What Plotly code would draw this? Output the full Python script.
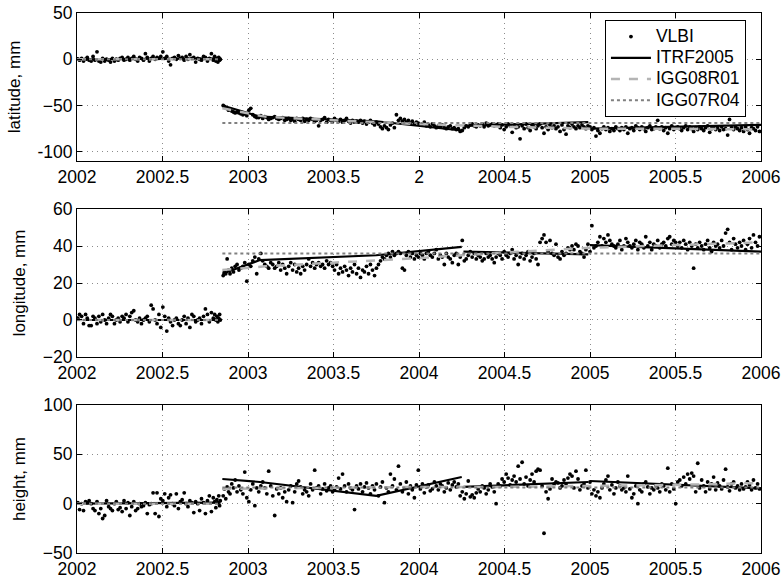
import plotly.graph_objects as go
from plotly.subplots import make_subplots

# ---------------- data ----------------
# VLBI epochs before the 2002.84 offset
t_a = [2002.005, 2002.015, 2002.027, 2002.038, 2002.05, 2002.06, 2002.071, 2002.083, 2002.094, 2002.105,
       2002.117, 2002.128, 2002.139, 2002.15, 2002.162, 2002.173, 2002.185, 2002.196, 2002.207, 2002.219,
       2002.23, 2002.241, 2002.252, 2002.264, 2002.275, 2002.287, 2002.298, 2002.309, 2002.32, 2002.332,
       2002.343, 2002.355, 2002.366, 2002.377, 2002.389, 2002.4, 2002.411, 2002.423, 2002.434, 2002.445,
       2002.457, 2002.468, 2002.479, 2002.49, 2002.502, 2002.513, 2002.525, 2002.536, 2002.547, 2002.559,
       2002.57, 2002.581, 2002.593, 2002.604, 2002.615, 2002.627, 2002.638, 2002.649, 2002.66, 2002.672,
       2002.683, 2002.694, 2002.706, 2002.717, 2002.728, 2002.74, 2002.751, 2002.763, 2002.774, 2002.786,
       2002.797, 2002.805, 2002.812, 2002.818, 2002.824, 2002.829, 2002.834, 2002.838]
# VLBI epochs after the offset
t_b = [2002.855, 2002.862, 2002.87, 2002.878, 2002.886, 2002.895, 2002.905, 2002.915, 2002.925, 2002.936,
       2002.947, 2002.958, 2002.97, 2002.981, 2002.993, 2003.005, 2003.016, 2003.028, 2003.04, 2003.051,
       2003.063, 2003.075, 2003.086, 2003.098, 2003.11, 2003.121, 2003.133, 2003.145, 2003.156, 2003.168,
       2003.18, 2003.191, 2003.203, 2003.215, 2003.226, 2003.238, 2003.25, 2003.261, 2003.273, 2003.285,
       2003.296, 2003.308, 2003.32, 2003.331, 2003.343, 2003.355, 2003.366, 2003.378, 2003.39, 2003.401,
       2003.413, 2003.425, 2003.436, 2003.448, 2003.46, 2003.471, 2003.483, 2003.495, 2003.506, 2003.518,
       2003.53, 2003.541, 2003.553, 2003.565, 2003.576, 2003.588, 2003.6, 2003.611, 2003.623, 2003.635,
       2003.646, 2003.658, 2003.67, 2003.681, 2003.693, 2003.705, 2003.716, 2003.728, 2003.74, 2003.751,
       2003.763, 2003.775, 2003.786, 2003.798, 2003.81, 2003.821, 2003.833, 2003.845, 2003.856, 2003.868,
       2003.88, 2003.891, 2003.903, 2003.915, 2003.926, 2003.938, 2003.95, 2003.961, 2003.973, 2003.985,
       2003.996, 2004.008, 2004.02, 2004.031, 2004.043, 2004.055, 2004.066, 2004.078, 2004.09, 2004.101,
       2004.113, 2004.125, 2004.136, 2004.148, 2004.16, 2004.171, 2004.183, 2004.195, 2004.206, 2004.218,
       2004.23, 2004.241, 2004.253, 2004.265, 2004.276, 2004.288, 2004.3, 2004.311, 2004.323, 2004.335,
       2004.346, 2004.358, 2004.37, 2004.381, 2004.393, 2004.405, 2004.416, 2004.428, 2004.44, 2004.451,
       2004.463, 2004.475, 2004.486, 2004.498, 2004.51, 2004.521, 2004.533, 2004.545, 2004.556, 2004.568,
       2004.58, 2004.591, 2004.603, 2004.615, 2004.626, 2004.638, 2004.65, 2004.661, 2004.673, 2004.685,
       2004.696, 2004.708, 2004.72, 2004.731, 2004.743, 2004.755, 2004.766, 2004.778, 2004.79, 2004.801,
       2004.813, 2004.825, 2004.836, 2004.848, 2004.86, 2004.871, 2004.883, 2004.895, 2004.906, 2004.918,
       2004.93, 2004.941, 2004.953, 2004.965, 2004.976, 2004.988, 2005.0, 2005.011, 2005.023, 2005.035,
       2005.046, 2005.058, 2005.07, 2005.081, 2005.093, 2005.105, 2005.116, 2005.128, 2005.14, 2005.151,
       2005.163, 2005.175, 2005.186, 2005.198, 2005.21, 2005.221, 2005.233, 2005.245, 2005.256, 2005.268,
       2005.28, 2005.291, 2005.303, 2005.315, 2005.326, 2005.338, 2005.35, 2005.361, 2005.373, 2005.385,
       2005.396, 2005.408, 2005.42, 2005.431, 2005.443, 2005.455, 2005.466, 2005.478, 2005.49, 2005.501,
       2005.513, 2005.525, 2005.536, 2005.548, 2005.56, 2005.571, 2005.583, 2005.595, 2005.606, 2005.618,
       2005.63, 2005.641, 2005.653, 2005.665, 2005.676, 2005.688, 2005.7, 2005.711, 2005.723, 2005.735,
       2005.746, 2005.758, 2005.77, 2005.781, 2005.793, 2005.805, 2005.816, 2005.828, 2005.84, 2005.851,
       2005.863, 2005.875, 2005.886, 2005.898, 2005.91, 2005.921, 2005.933, 2005.945, 2005.956, 2005.968,
       2005.98, 2005.991]

lat_a = [0.5, -1, 1, -2, 0, 2, -1, -2, 3, -1,
         8, -2, -3, 1, -2, 0, -1, -3, 1, -2,
         0, -1, 1, 2, -1, 0, 2, -1, 1, 3,
         0, -2, 2, 1, -1, 6, 2, -2, 1, 3,
         0, 2, 1, 3, 8, 1, 3, -2, -6, 1,
         2, 0, 4, 1, 2, -1, 3, 0, 5, 1,
         2, -3, 1, 0, -1, 3, 2, -2, 1, 6,
         -1, 3, -2, 1, -3, 2, -1, 0]
lat_b = [-50, -51, -52, -53, -55, -54, -56, -57, -58, -57,
         -58, -59, -60, -59, -61, -55, -53, -60, -62, -63,
         -63, -61, -64, -62, -63, -65, -64, -63, -62, -64,
         -65, -64, -63, -66, -65, -64, -66, -65, -67, -64,
         -65, -66, -64, -67, -65, -66, -64, -65, -67, -66,
         -72, -66, -65, -63, -68, -65, -66, -67, -64, -66,
         -67, -65, -68, -66, -64, -67, -69, -66, -68, -67,
         -68, -66, -69, -67, -70, -68, -66, -69, -71, -68,
         -70, -73, -75, -72, -74, -76, -71, -69, -74, -60,
         -66, -64, -67, -65, -68, -66, -69, -67, -70, -68,
         -69, -71, -70, -68, -72, -71, -73, -70, -72, -74,
         -72, -73, -71, -74, -75, -73, -72, -75, -74, -76,
         -75, -78, -77, -74, -72, -73, -71, -70, -72, -73,
         -71, -72, -70, -73, -69, -72, -71, -70, -72, -71,
         -70, -74, -71, -76, -73, -70, -72, -79, -71, -74,
         -73, -86, -72, -75, -70, -74, -77, -71, -73, -75,
         -72, -70, -74, -80, -73, -76, -71, -74, -72, -75,
         -73, -78, -71, -76, -81, -72, -74, -70, -73, -75,
         -72, -74, -71, -73, -75, -72, -73, -76, -74, -83,
         -77, -80, -75, -73, -76, -74, -78, -75, -77, -73,
         -75, -77, -74, -76, -73, -80, -75, -74, -77, -72,
         -74, -76, -73, -75, -78, -74, -72, -76, -75, -73,
         -66, -75, -73, -77, -74, -80, -75, -72, -76, -74,
         -73, -75, -77, -74, -72, -76, -73, -75, -78, -74,
         -76, -73, -75, -77, -74, -72, -79, -75, -73, -76,
         -74, -77, -73, -76, -75, -82, -65, -74, -76, -73,
         -75, -77, -74, -78, -73, -76, -80, -74, -75, -77,
         -73, -78]

lon_a = [1, 3, 2, -2, 3, 1, -3, -3, 2, 1,
         -2, 2, -1, 3, 0, -2, 1, 3, 2, -2,
         0, 1, -1, 2, 1, 3, -1, 2, 4, 5,
         0, -1, 1, -2, 0, 1, 2, -1, 8, 6,
         0, -2, 3, -4, 7, 2, -6, 1, -1, -3,
         0, 1, -2, -3, 0, 2, -2, 1, -4, 3,
         2, -1, 0, 1, -2, 2, 6, 3, -1, 4,
         1, 3, 0, 2, -1, 1, 3, 0]
lon_b = [24, 26, 25, 33, 27, 25, 28, 26, 29, 30,
         27, 28, 29, 31, 21, 30, 29, 32, 34, 25,
         33, 36, 32, 30, 29, 28, 31, 30, 28, 29,
         31, 27, 30, 28, 25, 29, 31, 27, 30, 26,
         28, 25, 29, 27, 30, 33, 29, 31, 28, 30,
         31, 29, 30, 28, 32, 30, 31, 29, 27, 30,
         25, 28, 26, 29, 27, 24, 28, 26, 30, 25,
         28, 23, 27, 26, 29, 25, 30, 27, 24, 28,
         30, 32, 34, 33, 35, 36, 34, 37, 35, 36,
         37, 36, 28, 27, 35, 37, 34, 36, 33, 35,
         34, 36, 35, 33, 36, 37, 35, 34, 36, 38,
         33, 35, 34, 30, 36, 34, 33, 31, 35, 36,
         30, 34, 43, 32, 33, 35, 37, 34, 36, 33,
         35, 34, 32, 33, 36, 34, 35, 33, 31, 34,
         36, 35, 33, 37, 35, 34, 36, 38, 33, 35,
         30, 34, 36, 33, 35, 37, 32, 34, 36, 33,
         30, 42, 44, 46, 42, 37, 43, 36, 35, 41,
         34, 33, 37, 35, 36, 39, 38, 40, 38, 41,
         40, 37, 36, 34, 38, 41, 37, 51, 39, 40,
         42, 45, 40, 44, 42, 46, 43, 41, 40, 39,
         41, 43, 38, 40, 44, 42, 40, 39, 41, 43,
         38, 42, 41, 39, 45, 40, 42, 38, 41, 40,
         43, 39, 41, 42, 40, 44, 45, 41, 43, 42,
         40, 42, 39, 43, 41, 38, 42, 40, 28, 41,
         39, 42, 40, 38, 41, 43, 39, 37, 42, 40,
         41, 39, 43, 40, 47, 49, 42, 38, 44, 41,
         39, 42, 40, 43, 38, 41, 44, 39, 46, 42,
         40, 45]

hgt_a = [1, -6, 0, -7, 2, 1, 3, 0, -5, -7,
         2, -10, -5, -15, -12, 3, -3, -5, -7, 0,
         2, -6, -4, -8, 3, -5, 1, -12, -3, 2,
         -7, -5, 0, -3, -2, 1, -10, -1, 0, 11,
         -10, 11, -13, 5, 3, 10, -3, 6, 9, 0,
         -2, 10, -5, 2, 4, 11, 0, -3, 3, 1,
         -9, 2, 0, -7, 5, 1, -10, 3, 8, -8,
         6, 2, -4, 4, 1, 8, -2, 3]
hgt_b = [8, 15, 5, 17, 12, 10, 20, 16, 24, 12,
         18, 14, 10, 32, 6, 2, 14, 20, -2, 16,
         12, 18, 22, 16, 10, 33, 18, 8, -12, 15,
         10, 16, 6, 12, 2, 14, 18, 1, 12, 20,
         23, 17, 10, 14, 12, 8, 20, 14, 34, 16,
         18, 10, 15, 20, 13, 16, 18, 12, 14, 17,
         26, 15, 30, 18, 12, 20, 16, 14, -6, 18,
         15, 20, 12, 17, 21, 16, 10, 18, 14, 20,
         8, 17, 22, 1, 16, 12, 30, 18, 25, 14,
         38, 20, 12, 16, 22, 10, 18, 14, 6, 19,
         34, 15, 20, 11, 17, 19, 13, 15, 22, 18,
         14, 20, 18, 12, 16, 21, 14, 19, 22, 17,
         20, 8, 12, 5, 10, 23, 7, 9, 6, 11,
         15, 12, 18, 16, 10, 14, 20, 17, 12, 0,
         20, 18, 25, 22, 30, 26, 19, 24, 28, 22,
         38, 25, 42, 20, 27, 18, 24, 30, 22, 33,
         35, 34, 18, -30, 12, 5, 15, 25, 20, 22,
         21, 16, 18, 24, 20, 26, 30, 28, 16, 33,
         25, 14, 18, 20, 34, 16, 22, 10, 14, 8,
         12, 6, 16, 20, 24, 28, 14, 19, 10, 16,
         22, 18, 14, 16, 12, 28, 15, 6, 10, 18,
         0, 14, 12, 20, 22, 17, 10, 16, 14, 19,
         16, 12, 20, 18, 14, 36, 12, 20, 15, 0,
         22, 24, 18, 27, 20, 30, 25, 31, 28, 12,
         41, 16, 24, 18, 12, 22, 15, 20, 27, 14,
         21, 18, 15, 24, 35, 17, 13, 20, 22, 16,
         18, 14, 20, 15, 17, 22, 19, 14, 24, 16,
         20, 15]

# ITRF2005 piecewise-linear model (None = break)
itrf_t = [2002.0, 2002.84, None, 2002.85, 2003.07, 2003.75, 2004.25, None, 2004.26, 2004.99, None, 2005.0, 2006.0]
itrf_lat = [0, 1, None, -50, -62, -67, -77, None, -72, -68, None, -75, -71]
itrf_lon = [0, 0, None, 25, 32.4, 35, 39.5, None, 37, 35.5, None, 40.5, 37]
itrf_hgt = [0, 1, None, 25, 22, 8, 27, None, 17, 22, None, 23, 15.6]

# IGG08R01 model
igg08_t = [2002.0, 2002.84, None, 2002.85, 2003.1, 2003.5, 2004.0, 2004.5, 2005.0, 2005.5, 2006.0]
igg08_lat = [0, 0, None, -53, -62, -66, -70, -73, -75, -75, -76]
igg08_lon = [0, 0, None, 27, 29, 31, 33.5, 36.5, 39, 40.5, 42]
igg08_hgt = [0, 0, None, 15, 15.5, 16, 17, 17, 18, 19, 21]

# IGG07R04 model
igg07_t = [2002.0, 2002.84, None, 2002.85, 2006.0]
igg07_lat = [0, 0, None, -69, -69]
igg07_lon = [0, 0, None, 36, 36]
igg07_hgt = [0, 0, None, 16.5, 16.5]

x_ticks = [2002, 2002.5, 2003, 2003.5, 2004, 2004.5, 2005, 2005.5, 2006]
x_labels = ["2002", "2002.5", "2003", "2003.5", "2004", "2004.5", "2005", "2005.5", "2006"]
x_labels_top = ["2002", "2002.5", "2003", "2003.5", "2", "2004.5", "2005", "2005.5", "2006"]

panels = [
    dict(title="latitude, mm", vlbi=lat_a + lat_b, itrf=itrf_lat, igg08=igg08_lat, igg07=igg07_lat,
         yr=[-110, 50], yt=[-100, -50, 0, 50], ytt=["-100", "\u221250", "0", "50"], xt=x_labels_top),
    dict(title="longitude, mm", vlbi=lon_a + lon_b, itrf=itrf_lon, igg08=igg08_lon, igg07=igg07_lon,
         yr=[-20, 60], yt=[-20, 0, 20, 40, 60], ytt=["\u221220", "0", "20", "40", "60"], xt=x_labels),
    dict(title="height, mm", vlbi=hgt_a + hgt_b, itrf=itrf_hgt, igg08=igg08_hgt, igg07=igg07_hgt,
         yr=[-50, 100], yt=[-50, 0, 50, 100], ytt=["\u221250", "0", "50", "100"], xt=x_labels),
]

epochs = t_a + t_b
for p in panels:
    assert len(p["vlbi"]) == len(epochs), (p["title"], len(p["vlbi"]), len(epochs))

FONT = "Liberation Sans, Arial, Helvetica, sans-serif"
LEG = '<span style="font-size:17.5px">%s</span>'
fig = make_subplots(rows=3, cols=1)

for i, p in enumerate(panels):
    r = i + 1
    show = (i == 0)
    fig.add_trace(go.Scatter(x=epochs, y=p["vlbi"], mode="markers", name=LEG % "VLBI",
                             marker=dict(color="black", size=3.8), showlegend=show), row=r, col=1)
    fig.add_trace(go.Scatter(x=itrf_t, y=p["itrf"], mode="lines", name=LEG % "ITRF2005",
                             line=dict(color="black", width=2.2), showlegend=show), row=r, col=1)
    fig.add_trace(go.Scatter(x=igg08_t, y=p["igg08"], mode="lines", name=LEG % "IGG08R01",
                             line=dict(color="#b4b4b4", width=2.5, dash="dash"), showlegend=show), row=r, col=1)
    fig.add_trace(go.Scatter(x=igg07_t, y=p["igg07"], mode="lines", name=LEG % "IGG07R04",
                             line=dict(color="#808080", width=2, dash="dot"), showlegend=show), row=r, col=1)

    axis_common = dict(showline=True, linecolor="black", linewidth=1, mirror="ticks",
                       ticks="inside", ticklen=5, tickcolor="black", automargin=False,
                       showgrid=True, gridcolor="#8c8c8c", griddash="1px,4px", gridwidth=1,
                       zeroline=False, tickfont=dict(family=FONT, size=17.5, color="black"))
    fig.update_xaxes(range=[2002, 2006], tickvals=x_ticks, ticktext=p["xt"],
                     ticklabelstandoff=0, **axis_common, row=r, col=1)
    fig.update_yaxes(range=p["yr"], tickvals=p["yt"], ticktext=p["ytt"],
                     ticklabelstandoff=0,
                     title=dict(text=p["title"], font=dict(family=FONT, size=17, color="black"), standoff=12),
                     **axis_common, row=r, col=1)

fig.update_layout(
    width=784, height=580,
    margin=dict(l=77, r=23, t=13, b=27, autoexpand=False),
    paper_bgcolor="white", plot_bgcolor="white",
    font=dict(family=FONT, size=17, color="black"),
    xaxis=dict(domain=[0, 1]), yaxis=dict(domain=[0.7259, 1.0]),
    xaxis2=dict(domain=[0, 1]), yaxis2=dict(domain=[0.363, 0.637]),
    xaxis3=dict(domain=[0, 1]), yaxis3=dict(domain=[0.0, 0.274]),
    legend=dict(x=0.978, y=0.987, xanchor="right", yanchor="top",
                bgcolor="white", bordercolor="black", borderwidth=1,
                font=dict(family=FONT, size=14, color="black"),
                tracegroupgap=0, itemwidth=40),
)

fig.write_html("out.html", config={"displayModeBar": False},
               post_script="document.body.style.margin='0';document.body.style.overflow='hidden';")
